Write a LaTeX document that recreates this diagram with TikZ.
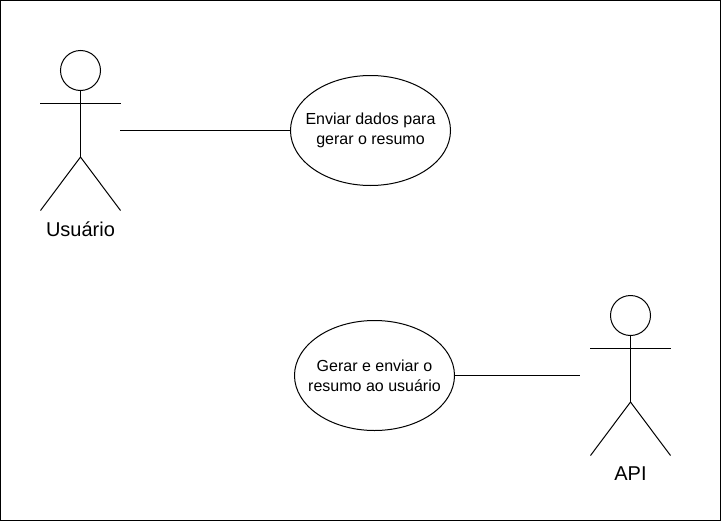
\documentclass[tikz,border=0pt]{standalone}
\usepackage{fontspec}
\setmainfont{Liberation Sans}
\usetikzlibrary{positioning}
\usetikzlibrary{shapes.geometric}
\tikzset{
  usecase/.style={ellipse,draw=black,fill=white,line width=0.75pt,inner ysep=0pt,inner xsep=-10pt,outer sep=0pt,align=center,font=\fontsize{12pt}{15pt}\selectfont,execute at begin node={\rule{0pt}{12pt}}},
  actorlabel/.style={font=\fontsize{15pt}{18pt}\selectfont,text=black,inner sep=0pt},
  stick/.style={draw=black,line width=0.75pt}
}
\begin{document}
\begin{tikzpicture}[x=0.75pt,y=-0.75pt]
\useasboundingbox (0,0) rectangle (721,521);
\draw[black,line width=0.75pt] (0.5,0.5) rectangle (720.5,520.5);
% actor on the left
\draw[stick] (80.5,70.5) circle (15pt);
\draw[stick] (80.5,90.5) -- (80.5,157);
\draw[stick] (40,103.5) -- (120.5,103.5);
\draw[stick] (40.5,210.5) -- (80.5,157) -- (120.5,210.5);
\node[actorlabel] (usuario) at (80.5,229) {Usuário};
\coordinate (usuarioport) at (120,130.5);
% actor on the right
\draw[stick] (630.5,315.5) circle (15pt);
\draw[stick] (630.5,335.5) -- (630.5,402);
\draw[stick] (590,348.5) -- (670.5,348.5);
\draw[stick] (590.5,455.5) -- (630.5,402) -- (670.5,455.5);
\node[actorlabel] (api) at (630.5,474) {API};
\coordinate (apiport) at (580,375.5);
% use cases
\node[usecase,minimum width=120pt,minimum height=82.5pt] (enviar) at (370.5,130.5) {Enviar dados para\\gerar o resumo};
\node[usecase,minimum width=120pt,minimum height=82.5pt] (gerar) at (374.5,375.5) {Gerar e enviar o\\resumo ao usuário};
\draw[stick] (usuarioport) -- (enviar);
\draw[stick] (gerar) -- (apiport);
\end{tikzpicture}
\end{document}
